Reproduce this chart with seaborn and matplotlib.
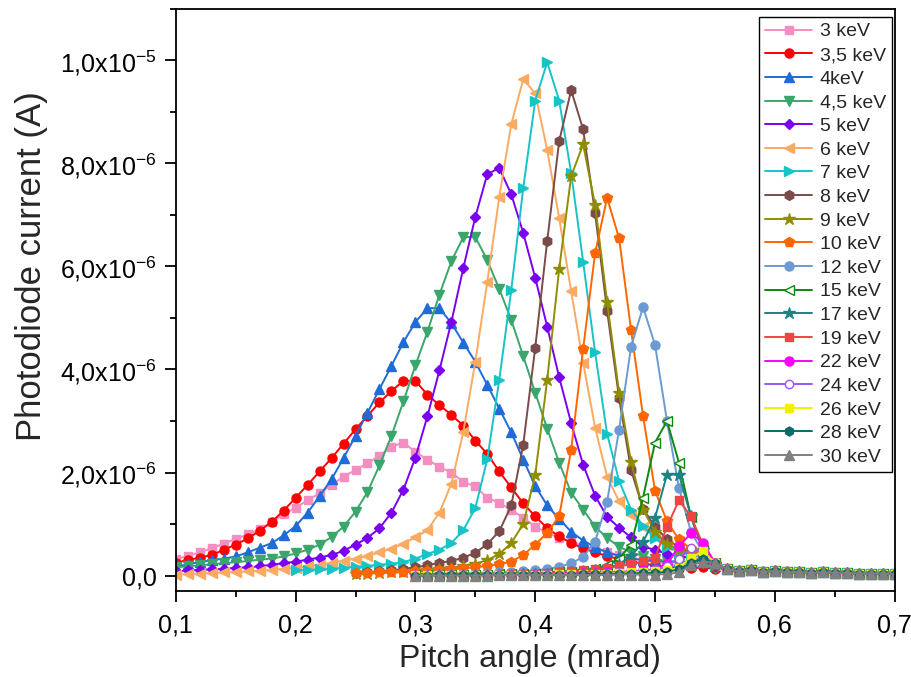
import numpy as np
import matplotlib
matplotlib.use("Agg")
import matplotlib.pyplot as plt
import seaborn as sns
from matplotlib.ticker import MultipleLocator, FuncFormatter

# ---------------- data (photodiode current in units of 1e-6 A) ----------------
labels = ['3 keV', '3,5 keV', '4keV', '4,5 keV', '5 keV', '6 keV', '7 keV', '8 keV', '9 keV',
          '10 keV', '12 keV', '15 keV', '17 keV', '19 keV', '22 keV', '24 keV', '26 keV',
          '28 keV', '30 keV']
start_x = [0.10, 0.10, 0.10, 0.10, 0.10, 0.10, 0.20, 0.25, 0.25,
           0.25, 0.30, 0.30, 0.30, 0.30, 0.30, 0.30, 0.30, 0.30, 0.30]

# common tail 0.56 ... 0.70
tail = [0.13, 0.08, 0.11, 0.07, 0.09, 0.06, 0.07, 0.05, 0.06, 0.05, 0.05, 0.04, 0.04, 0.04, 0.03]

kev_3 = [0.32, 0.38, 0.45, 0.53, 0.62, 0.71, 0.80, 0.90, 1.04, 1.19,
         1.32, 1.46, 1.60, 1.76, 1.92, 2.05, 2.18, 2.33, 2.50, 2.58,
         2.40, 2.25, 2.11, 2.00, 1.82, 1.73, 1.51, 1.41, 1.28, 1.12,
         0.95, 0.83, 0.73, 0.66, 0.58, 0.52, 0.46, 0.40, 0.35, 0.30,
         0.26, 0.22, 0.19, 0.18, 0.20, 0.16]
kev_3_5 = [0.25, 0.30, 0.35, 0.40, 0.50, 0.60, 0.72, 0.87, 1.04, 1.26,
           1.51, 1.76, 2.02, 2.28, 2.56, 2.84, 3.10, 3.36, 3.58, 3.78,
           3.78, 3.51, 3.31, 3.12, 2.91, 2.62, 2.36, 2.02, 1.71, 1.40,
           1.15, 0.92, 0.76, 0.63, 0.53, 0.45, 0.38, 0.32, 0.27, 0.23,
           0.20, 0.17, 0.15, 0.14, 0.16, 0.13]
kev_4 = [0.17, 0.22, 0.26, 0.30, 0.33, 0.37, 0.45, 0.54, 0.63, 0.78,
         0.96, 1.22, 1.54, 1.87, 2.28, 2.71, 3.16, 3.62, 4.07, 4.53,
         4.92, 5.19, 5.19, 4.90, 4.52, 4.15, 3.70, 3.24, 2.78, 2.25,
         1.74, 1.36, 1.10, 0.85, 0.68, 0.55, 0.45, 0.38, 0.33, 0.30,
         0.28, 0.27, 0.28, 0.26, 0.27, 0.18]
kev_4_5 = [0.16, 0.18, 0.20, 0.22, 0.24, 0.26, 0.28, 0.31, 0.33, 0.37,
           0.43, 0.50, 0.60, 0.75, 0.95, 1.24, 1.62, 2.14, 2.71, 3.38,
           4.08, 4.73, 5.45, 6.10, 6.57, 6.57, 6.12, 5.56, 4.96, 4.26,
           3.55, 2.85, 2.19, 1.61, 1.28, 0.95, 0.73, 0.56, 0.45, 0.38,
           0.32, 0.28, 0.25, 0.23, 0.25, 0.15]
kev_5 = [0.08, 0.10, 0.11, 0.12, 0.13, 0.15, 0.16, 0.18, 0.21, 0.24,
         0.27, 0.31, 0.35, 0.40, 0.48, 0.60, 0.73, 0.92, 1.22, 1.67,
         2.29, 3.09, 3.98, 4.92, 5.97, 6.96, 7.79, 7.91, 7.40, 6.65,
         5.78, 4.83, 3.85, 2.96, 2.15, 1.55, 1.14, 0.93, 0.74, 0.56,
         0.50, 0.42, 0.38, 0.34, 0.30, 0.18]
kev_6 = [0.02, 0.03, 0.04, 0.05, 0.06, 0.07, 0.08, 0.09, 0.11, 0.13,
         0.15, 0.18, 0.21, 0.25, 0.29, 0.33, 0.38, 0.45, 0.52, 0.62,
         0.74, 0.88, 1.22, 1.78, 2.79, 4.15, 5.70, 7.35, 8.76, 9.63,
         9.36, 8.26, 6.94, 5.52, 4.13, 2.87, 1.92, 1.44, 1.18, 0.95,
         0.75, 0.60, 0.50, 0.42, 0.38, 0.20]
kev_7 = [0.10, 0.11, 0.12, 0.13, 0.15, 0.17, 0.19, 0.21, 0.23, 0.26,
         0.33, 0.42, 0.50, 0.63, 0.88, 1.31, 2.26, 3.80, 5.54, 7.52,
         9.22, 9.96, 9.22, 7.81, 6.09, 4.33, 2.75, 1.84, 1.28, 0.97,
         0.72, 0.56, 0.46, 0.40, 0.36, 0.20]
kev_8 = [0.05, 0.06, 0.08, 0.10, 0.13,
         0.16, 0.20, 0.25, 0.28, 0.35, 0.44, 0.61, 0.86, 1.36, 2.54,
         4.42, 6.49, 8.43, 9.42, 8.66, 7.03, 5.14, 3.45, 2.05, 1.30,
         0.95, 0.70, 0.55, 0.45, 0.40, 0.20]
kev_9 = [0.03, 0.04, 0.05, 0.06, 0.07,
         0.08, 0.10, 0.12, 0.15, 0.19, 0.23, 0.30, 0.42, 0.63, 1.00,
         1.95, 3.80, 5.95, 7.75, 8.37, 7.19, 5.31, 3.55, 2.21, 1.28,
         0.85, 0.62, 0.50, 0.43, 0.40, 0.20]
kev_10 = [0.05, 0.05, 0.06, 0.06, 0.07,
          0.08, 0.09, 0.10, 0.12, 0.14, 0.16, 0.19, 0.22, 0.27, 0.40,
          0.60, 0.83, 1.15, 2.44, 4.40, 6.26, 7.33, 6.55, 4.77, 3.10,
          1.65, 1.05, 0.70, 0.52, 0.42, 0.22]
kev_12 = [0.02, 0.02, 0.03, 0.03, 0.04, 0.04, 0.05, 0.06, 0.07, 0.08,
          0.10, 0.13, 0.17, 0.24, 0.36, 0.66, 1.43, 2.83, 4.44, 5.21,
          4.48, 3.00, 1.70, 0.85, 0.45, 0.25]
kev_15 = [0.01, 0.01, 0.01, 0.02, 0.02, 0.02, 0.02, 0.03, 0.03, 0.03,
          0.04, 0.05, 0.06, 0.07, 0.09, 0.13, 0.20, 0.33, 0.60, 1.51,
          2.58, 3.00, 2.19, 1.14, 0.50, 0.25]
kev_17 = [0.01, 0.01, 0.01, 0.01, 0.02, 0.02, 0.02, 0.02, 0.02, 0.03,
          0.03, 0.04, 0.05, 0.06, 0.08, 0.10, 0.14, 0.22, 0.38, 0.65,
          1.12, 1.96, 1.96, 1.15, 0.50, 0.22]
kev_19 = [0.01, 0.01, 0.01, 0.01, 0.02, 0.02, 0.02, 0.02, 0.03, 0.03,
          0.04, 0.05, 0.06, 0.08, 0.10, 0.12, 0.15, 0.18, 0.22, 0.28,
          0.35, 0.95, 1.46, 1.15, 0.60, 0.25]
kev_22 = [0.01, 0.01, 0.01, 0.01, 0.01, 0.02, 0.02, 0.02, 0.02, 0.02,
          0.03, 0.03, 0.04, 0.04, 0.05, 0.05, 0.06, 0.07, 0.08, 0.10,
          0.12, 0.22, 0.57, 0.82, 0.64, 0.25]
kev_24 = [0.01, 0.01, 0.01, 0.01, 0.01, 0.01, 0.02, 0.02, 0.02, 0.02,
          0.02, 0.03, 0.03, 0.03, 0.04, 0.04, 0.05, 0.06, 0.07, 0.08,
          0.10, 0.18, 0.33, 0.54, 0.45, 0.22]
kev_26 = [0.01, 0.01, 0.01, 0.01, 0.01, 0.01, 0.01, 0.02, 0.02, 0.02,
          0.02, 0.02, 0.03, 0.03, 0.03, 0.04, 0.04, 0.05, 0.06, 0.07,
          0.08, 0.10, 0.15, 0.35, 0.47, 0.25]
kev_28 = [0.00, 0.00, 0.01, 0.01, 0.01, 0.01, 0.01, 0.01, 0.01, 0.02,
          0.02, 0.02, 0.02, 0.02, 0.03, 0.03, 0.03, 0.04, 0.04, 0.05,
          0.05, 0.07, 0.12, 0.25, 0.33, 0.24]
kev_30 = [0.00, 0.00, 0.00, 0.00, 0.00, 0.00, 0.00, 0.01, 0.01, 0.01,
          0.01, 0.01, 0.01, 0.01, 0.01, 0.01, 0.01, 0.02, 0.02, 0.02,
          0.02, 0.03, 0.06, 0.20, 0.27, 0.25]

series_vals = [kev_3, kev_3_5, kev_4, kev_4_5, kev_5, kev_6, kev_7, kev_8, kev_9, kev_10,
               kev_12, kev_15, kev_17, kev_19, kev_22, kev_24, kev_26, kev_28, kev_30]

# ---------------- styles ----------------
colors = ['#F58EC0', '#FF0000', '#1F6BD8', '#3BA66C', '#7A00F0', '#FBAA62', '#16C4C8',
          '#7A4B4A', '#8E8E00', '#FF6600', '#6B9BD2', '#0E880E', '#1C8383', '#EE4444',
          '#FF00FF', '#9D55F5', '#F2F200', '#0C6B66', '#808080']
markers = ['s', 'o', '^', 'v', 'D', '<', '>', 'h', '*', 'p', 'o', '<', '*', 's', 'o', 'o', 's', 'h', '^']
open_marker = [False] * 11 + [True, False, False, False, True, False, False, False]
msizes = [6, 6.5, 6.5, 6.5, 5.5, 6.5, 6.5, 7, 9, 7, 6.5, 6.5, 9, 6, 6.5, 6, 6, 6.5, 6.5]

sns.set_theme(style="white")
plt.rcParams['font.family'] = ['Liberation Sans', 'DejaVu Sans']
plt.rcParams['mathtext.fontset'] = 'custom'
plt.rcParams['mathtext.rm'] = 'Liberation Sans'
plt.rcParams['mathtext.it'] = 'Liberation Sans:italic'

fig = plt.figure(figsize=(9.11, 6.77), dpi=100)
ax = fig.add_axes([0.193, 0.127, 0.789, 0.860])

for lab, x0, vals, c, m, op, ms in zip(labels, start_x, series_vals, colors, markers,
                                        open_marker, msizes):
    full = np.array(list(vals) + tail) * 1e-6
    xs = np.round(x0 + 0.01 * np.arange(len(full)), 2)
    sns.lineplot(x=xs, y=full, ax=ax, color=c, marker=m, markersize=ms,
                 markeredgecolor=c, markerfacecolor='white' if op else c,
                 markeredgewidth=1.0, linewidth=1.4, label=lab, sort=False,
                 estimator=None, legend=False)

ax.set_xlim(0.1, 0.7)
ax.set_ylim(-0.3e-6, 1.1e-5)
ax.xaxis.set_major_locator(MultipleLocator(0.1))
ax.xaxis.set_minor_locator(MultipleLocator(0.05))
ax.yaxis.set_major_locator(MultipleLocator(2e-6))
ax.yaxis.set_minor_locator(MultipleLocator(1e-6))


def yfmt(v, pos):
    if abs(v) < 1e-12:
        return '0,0'
    e = int(np.floor(np.log10(abs(v)) + 1e-9))
    mant = v / 10 ** e
    s = f"{mant:.1f}".replace('.', '{,}')
    return r'$\mathregular{%s\mathrm{x}10^{%d}}$' % (s, e)


def xfmt(v, pos):
    return f"{v:.1f}".replace('.', ',')


ax.yaxis.set_major_formatter(FuncFormatter(yfmt))
ax.xaxis.set_major_formatter(FuncFormatter(xfmt))

ax.tick_params(which='both', direction='out', top=False, right=False,
               bottom=True, left=True, colors='black')
ax.tick_params(which='major', length=8, width=1.3, pad=6)
ax.tick_params(axis='y', which='major', labelsize=18)
ax.tick_params(axis='x', which='major', labelsize=18, pad=8)
ax.tick_params(which='minor', length=4, width=1.3)
for sp in ax.spines.values():
    sp.set_visible(True)
    sp.set_color('black')
    sp.set_linewidth(1.3)

ax.set_xlabel('Pitch angle (mrad)', fontsize=23)
ax.xaxis.set_label_coords(0.493, -0.091)
ax.set_ylabel('Photodiode current (A)', fontsize=25)
ax.yaxis.set_label_coords(-0.178, 0.558)

handles, labs = ax.get_legend_handles_labels()
leg = ax.legend(handles, labs, loc='upper right', bbox_to_anchor=(0.996, 0.986),
                fontsize=14, frameon=True, fancybox=False, edgecolor='black',
                framealpha=1, handlelength=2.4, labelspacing=0.31, borderpad=0.3,
                handletextpad=0.4, borderaxespad=0)
leg.get_frame().set_linewidth(1.0)

fig.savefig('out.png', dpi=100)
